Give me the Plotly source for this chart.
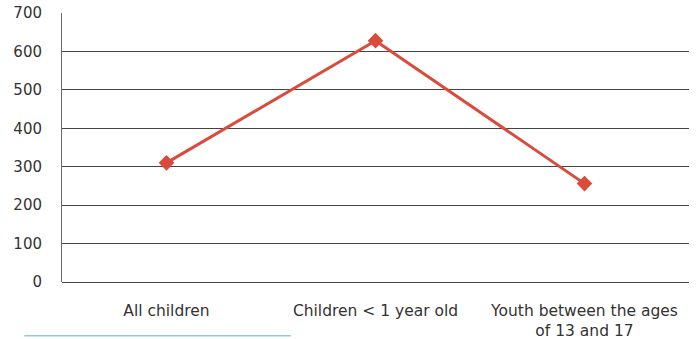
import plotly.graph_objects as go

categories = ["All children", "Children < 1 year old", "Youth between the ages<br>of 13 and 17"]
values = [310, 628, 256]
y_ticks = [0, 100, 200, 300, 400, 500, 600, 700]

line_color = "#DA4B3C"
text_color = "#333333"
font_family = "DejaVu Sans"

fig = go.Figure()
fig.add_trace(go.Scatter(
    x=categories,
    y=values,
    mode="lines+markers",
    line=dict(color=line_color, width=3),
    marker=dict(symbol="diamond", size=12, color=line_color),
    showlegend=False,
))

fig.update_layout(
    width=696,
    height=339,
    margin=dict(l=62, r=7, t=13, b=57, autoexpand=False),
    paper_bgcolor="white",
    plot_bgcolor="white",
    font=dict(family=font_family, size=15, color=text_color),
    xaxis=dict(
        type="category",
        range=[-0.5, 2.5],
        automargin=False,
        showgrid=False,
        showline=False,
        ticks="",
        tickfont=dict(size=15.5, color=text_color),
        ticklabelstandoff=17,
    ),
    yaxis=dict(
        range=[0, 700],
        tickvals=y_ticks,
        automargin=False,
        showgrid=True,
        gridcolor="#444444",
        gridwidth=1,
        zeroline=True,
        zerolinecolor="#444444",
        zerolinewidth=1,
        showline=True,
        linecolor="#6a6a6a",
        linewidth=1,
        ticks="",
        tickfont=dict(size=15, color=text_color),
        ticklabelstandoff=16,
    ),
)

# thin light-blue rule along the bottom edge
fig.add_shape(
    type="line", xref="paper", yref="paper",
    x0=-0.06, x1=0.365, y0=-0.2, y1=-0.2,
    line=dict(color="#8fcbe8", width=1.5),
)

fig.write_html("out.html")
